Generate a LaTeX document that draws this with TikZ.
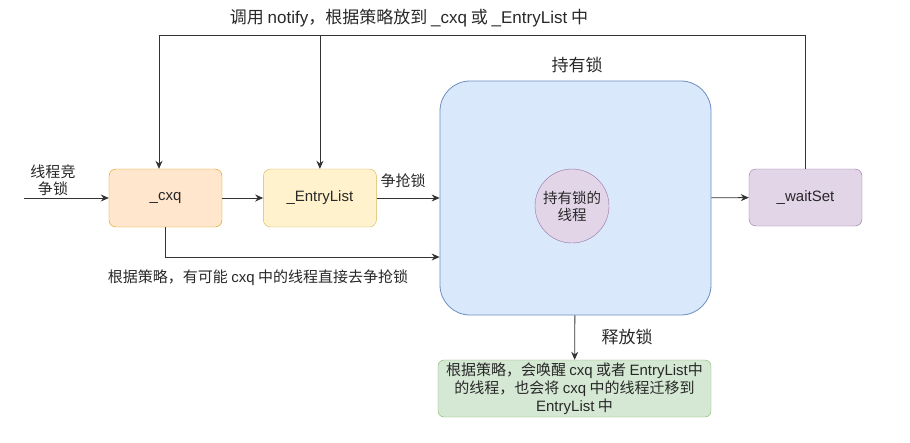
\documentclass[tikz,border=0pt]{standalone}
\usepackage{fontspec}
\setmainfont{Noto Sans CJK SC}
\newfontfamily\latfont{Liberation Sans}
\newcommand{\lat}[1]{{\latfont #1}}
\usepackage{tikz}
\usetikzlibrary{arrows.meta,positioning,calc}
\usepackage{xcolor}
\definecolor{linegray}{RGB}{51,51,51}
\definecolor{textgray}{RGB}{40,40,40}
\definecolor{cxqfill}{RGB}{255,230,204}
\definecolor{cxqdraw}{RGB}{215,155,0}
\definecolor{entryfill}{RGB}{255,242,204}
\definecolor{entrydraw}{RGB}{214,182,86}
\definecolor{holdfill}{RGB}{218,232,252}
\definecolor{holddraw}{RGB}{108,142,191}
\definecolor{waitfill}{RGB}{225,213,231}
\definecolor{waitdraw}{RGB}{150,115,166}
\definecolor{relfill}{RGB}{213,232,212}
\definecolor{reldraw}{RGB}{130,179,102}
\tikzset{
  qbox/.style={rectangle,rounded corners=7pt,draw=#1draw,fill=#1fill,
               minimum width=113pt,minimum height=58pt,align=center,
               text=textgray,font=\fontsize{15}{18}\selectfont},
  arrow/.style={-{Stealth[length=8pt,width=7pt]},line width=0.8pt,linegray},
  lbl/.style={text=textgray,font=\fontsize{15}{17}\selectfont,align=center,inner sep=1pt},
  biglbl/.style={lbl,font=\fontsize{17}{20}\selectfont},
}

\begin{document}
\begin{tikzpicture}[x=1pt,y=-1pt]
    \useasboundingbox (0,0) rectangle (910,442);

    \node[qbox=cxq] (cxq) at (165.5,198) {\lat{\_cxq}};
    \node[qbox=entry,right=41pt of cxq] (entry) {\lat{\_EntryList}};

    \node[rectangle,rounded corners=30pt,draw=holddraw,fill=holdfill,
          line width=0.8pt,minimum width=271pt,minimum height=234pt]
        (hold) at (575.5,198) {};
    \node[circle,draw=waitdraw,fill=waitfill,minimum size=74pt,inner sep=0pt,
          align=center,text=textgray,font=\fontsize{14.5}{17}\selectfont]
        (holder) at (572,206) {持有锁的\\线程};

    \node[qbox=wait,minimum height=57pt] (wait) at (805.5,197.5) {\lat{\_waitSet}};

    \node[qbox=rel,rounded corners=6pt,minimum width=273pt,minimum height=57pt,
          inner sep=1pt,font=\fontsize{15}{18}\selectfont]
        (release) at (574.5,388.5)
        {根据策略，会唤醒 \lat{cxq} 或者 \lat{EntryList}中\\的线程，也会将 \lat{cxq} 中的线程迁移到\\\lat{EntryList} 中};

    \coordinate (start) at (24,198);
    \coordinate (topl) at (159,35);

    \draw[arrow] (start) -- (cxq);
    \draw[arrow] (cxq) -- (entry);
    \draw[arrow] (entry) -- (hold);
    \draw[arrow] (cxq.south) |- ([yshift=-59pt]hold.west);
    \draw[arrow] (hold) -- (wait);
    \draw[arrow] (wait.north) |- (topl) -- (topl |- cxq.north);
    \draw[arrow] (entry.north |- topl) -- (entry.north);
    \draw[arrow] (hold) -- (release);

    \node[biglbl] (topnote) at (409,18) {调用 \lat{notify}，根据策略放到 \lat{\_cxq} 或 \lat{\_EntryList} 中};
    \node[biglbl] (holdnote) at (577,65) {持有锁};
    \node[lbl] (innote) at (53,180) {线程竞\\争锁};
    \node[lbl] (grabnote) at (403,181) {争抢锁};
    \node[lbl] (directnote) at (258,278) {根据策略，有可能 \lat{cxq} 中的线程直接去争抢锁};
    \node[biglbl] (relnote) at (627,337) {释放锁};

  \end{tikzpicture}
\end{document}
